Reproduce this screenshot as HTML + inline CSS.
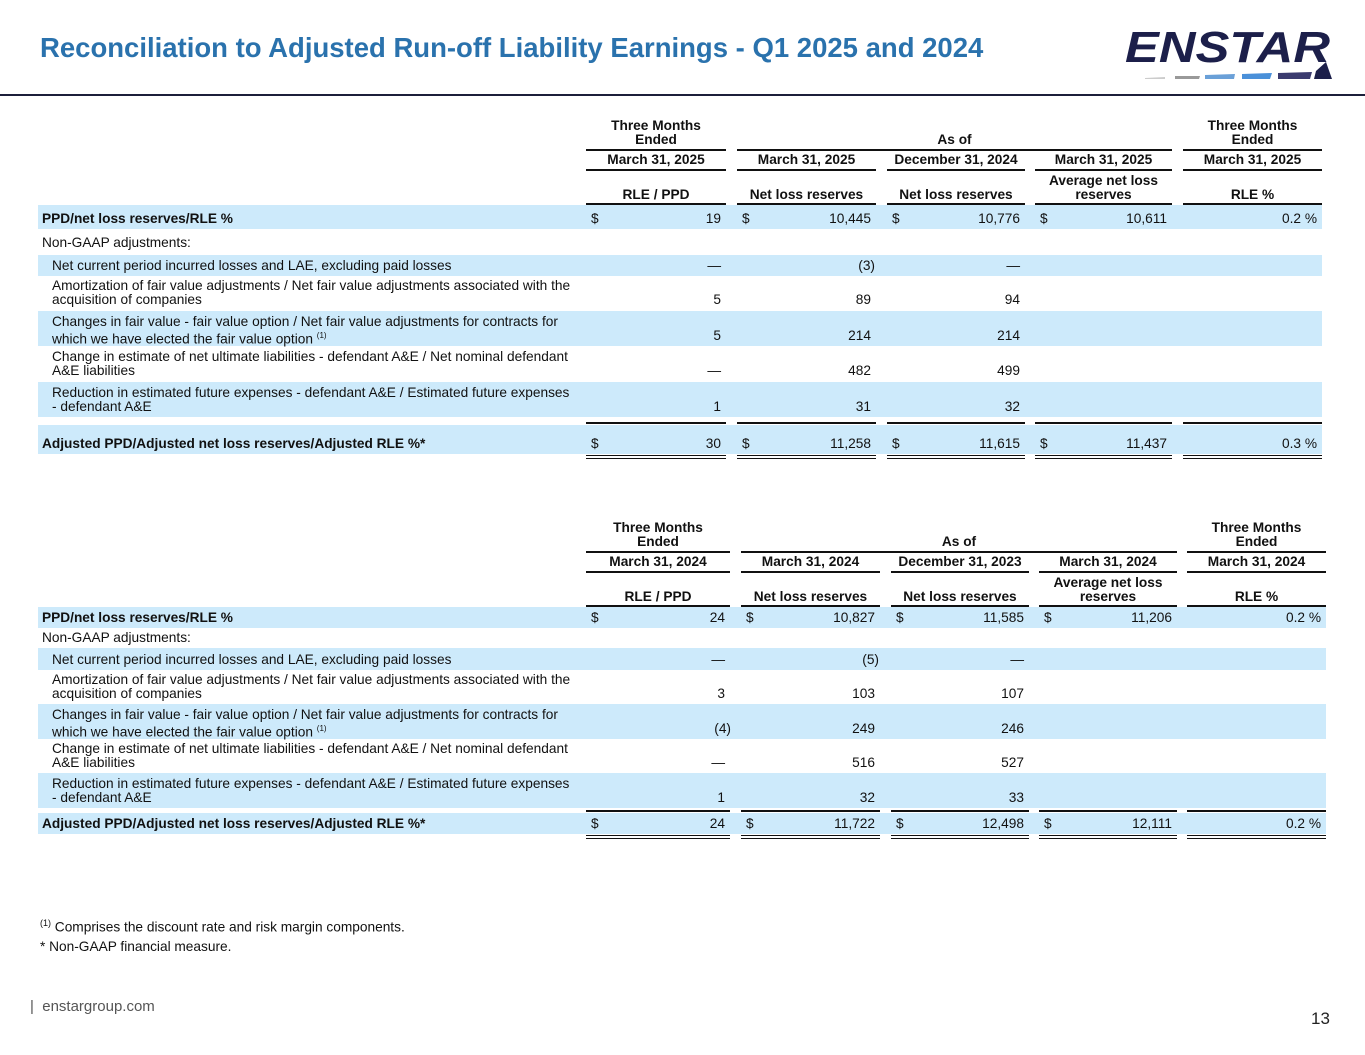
<!DOCTYPE html>
<html><head><meta charset="utf-8"><style>
body{margin:0;width:1365px;height:1055px;position:relative;background:#fff;font-family:"Liberation Sans",Arial,sans-serif;color:#111;overflow:hidden}
.a{position:absolute;white-space:nowrap}
.t{font-size:13.7px;line-height:14px}
.b{font-weight:bold}
.bg{position:absolute;background:#cdeafb}
.ln{position:absolute;height:2px;background:#111}
</style></head><body>
<div class="a b" style="left:40px;top:32px;font-size:27.5px;color:#2a72ad">Reconciliation to Adjusted Run-off Liability Earnings - Q1 2025 and 2024</div>
<svg class="a" style="left:1120px;top:18px" width="220" height="62">
<text x="5" y="44" font-family="Liberation Sans" font-weight="bold" font-style="italic" font-size="44" fill="#1c1f4a" textLength="205" lengthAdjust="spacingAndGlyphs">ENSTAR</text>
<polygon points="25,60 45,59 45,61 25,61" fill="#ccc"/><polygon points="55,58 80,58 79,61 55,61" fill="#999"/>
<polygon points="85,57 115,56 114,61 85,61" fill="#6aa0d8"/><polygon points="122,56 152,55 150,61 122,61" fill="#4a90d9"/>
<polygon points="158,55 192,54 190,61 158,61" fill="#3a3a6e"/><polygon points="196,53 206,44 212,61 194,61" fill="#1c1f4a"/>
</svg>
<div class="a" style="left:0;top:94px;width:1365px;height:2px;background:#1c1f3a"></div>
<div id="root"></div>
<div class="a t" style="left:40px;top:916px"><sup style="font-size:9px">(1)</sup> Comprises the discount rate and risk margin components.</div>
<div class="a t" style="left:40px;top:940px">* Non-GAAP financial measure.</div>
<div class="a" style="left:30px;top:998px;font-size:15px;color:#555">|&nbsp;&nbsp;enstargroup.com</div>
<div class="a" style="left:1311px;top:1009px;font-size:17px;color:#222">13</div>
<script>
const labels=["PPD/net loss reserves/RLE %","Non-GAAP adjustments:","Net current period incurred losses and LAE, excluding paid losses","Amortization of fair value adjustments / Net fair value adjustments associated with the|acquisition of companies","Changes in fair value - fair value option / Net fair value adjustments for contracts for|which we have elected the fair value option <sup style='font-size:8px'>(1)</sup>","Change in estimate of net ultimate liabilities - defendant A&E / Net nominal defendant|A&E liabilities","Reduction in estimated future expenses - defendant A&E / Estimated future expenses|- defendant A&E","Adjusted PPD/Adjusted net loss reserves/Adjusted RLE %*"];
const v2025=[["19","10,445","10,776","10,611","0.2 %"],["","","","",""],["—","(3)","—","",""],["5","89","94","",""],["5","214","214","",""],["—","482","499","",""],["1","31","32","",""],["30","11,258","11,615","11,437","0.3 %"]];
const v2024=[["24","10,827","11,585","11,206","0.2 %"],["","","","",""],["—","(5)","—","",""],["3","103","107","",""],["(4)","249","246","",""],["—","516","527","",""],["1","32","33","",""],["24","11,722","12,498","12,111","0.2 %"]];
const dates2025=["March 31, 2025","March 31, 2025","December 31, 2024","March 31, 2025","March 31, 2025"];
const dates2024=["March 31, 2024","March 31, 2024","December 31, 2023","March 31, 2024","March 31, 2024"];
const colHeads=["RLE / PPD","Net loss reserves","Net loss reserves","Average net loss|reserves","RLE %"];
const root=document.getElementById('root');
function el(cls,style,html){const d=document.createElement('div');d.className=cls;d.style.cssText=style;if(html!==undefined)d.innerHTML=html;root.appendChild(d);return d;}
function table(y0,vals,dates,rows,cols,right,name){
 let e=el('a t b',`left:${cols[0][0]}px;top:${y0}px;width:${cols[0][1]-cols[0][0]}px;text-align:center`,'Three Months<br>Ended');
 
 
 e=el('a t b',`left:${cols[4][0]}px;top:${y0}px;width:${cols[4][1]-cols[4][0]}px;text-align:center`,'Three Months<br>Ended');
 
 
 e=el('a t b',`left:${cols[1][0]}px;top:${y0+14}px;width:${cols[3][1]-cols[1][0]}px;text-align:center`,'As of');
 
 
 el('ln',`left:${cols[0][0]}px;top:${y0+30}px;width:${cols[0][1]-cols[0][0]}px`);
 el('ln',`left:${cols[1][0]}px;top:${y0+30}px;width:${cols[3][1]-cols[1][0]}px`);
 el('ln',`left:${cols[4][0]}px;top:${y0+30}px;width:${cols[4][1]-cols[4][0]}px`);
 for(let i=0;i<5;i++){
  const [l,r]=cols[i];
  e=el('a t b',`left:${l}px;top:${y0+34}px;width:${r-l}px;text-align:center`,dates[i]);
  
  
  el('ln',`left:${l}px;top:${y0+50}px;width:${r-l}px`);
  const h=colHeads[i].split('|');
  e=el('a t b',`left:${l}px;top:${y0+(h.length>1?55:69)}px;width:${r-l}px;text-align:center`,h.join('<br>'));
  
  
  el('ln',`left:${l}px;top:${y0+84}px;width:${r-l}px`);
 }
 rows.forEach((rw,ri)=>{
  const [top,h,blue]=rw;
  if(blue){el('bg',`left:38px;top:${top}px;width:${right-38}px;height:${h}px`);}
  const lab=labels[ri].split('|');
  const bold=(ri==0||ri==7);
  const ind=(ri==0||ri==1||ri==7)?42:52;
  const vy=top+h-17;
  e=el('a t'+(bold?' b':''),`left:${ind}px;top:${vy-(lab.length-1)*14}px`,lab.join('<br>'));
  
  
  const dollar=(ri==0||ri==7);
  for(let c=0;c<5;c++){
   const v=vals[ri][c];if(!v)continue;
   const [l,r]=cols[c];
   if(dollar&&c<4){e=el('a t',`left:${l+5}px;top:${vy}px`,'$');}
   let rr=r-5;
   if(v.startsWith('(')) rr=r+1;
   if(c==1&&v.startsWith('(')) rr=r-1;
   e=el('a t',`left:${l}px;top:${vy}px;width:${rr-l}px;text-align:right`,v);
   
   
  }
  if(ri==7){
   for(let c=0;c<5;c++){const [l,r]=cols[c];
    el('ln',`left:${l}px;top:${top-3}px;width:${r-l}px`);
    el('ln',`left:${l}px;top:${top+h+1}px;width:${r-l}px;height:1px`);
    el('ln',`left:${l}px;top:${top+h+4}px;width:${r-l}px;height:1px`);}
  }
 });
}
table(119,v2025,dates2025,[[205,24,1],[231,22,0],[255,21,1],[278,32,0],[311,35,1],[347,34,0],[382,35,1],[425,29,1]],[[586,726],[737,876],[887,1025],[1035,1172],[1183,1322]],1322,'table-2025');
table(521,v2024,dates2024,[[607,21,1],[628,20,0],[648,22,1],[670,34,0],[704,35,1],[739,34,0],[773,35,1],[813,21,1]],[[586,730],[741,880],[891,1029],[1039,1177],[1187,1326]],1326,'table-2024');
</script>
</body></html>
